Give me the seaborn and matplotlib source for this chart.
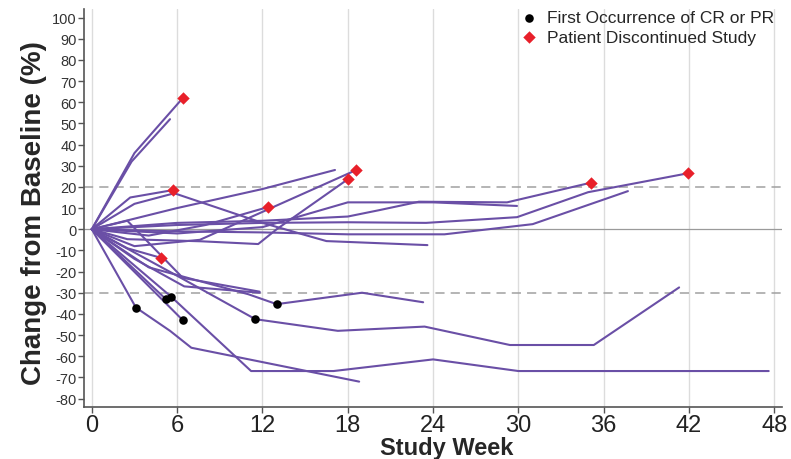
import numpy as np
import pandas as pd
import matplotlib
matplotlib.use('Agg')
import matplotlib.pyplot as plt
import seaborn as sns

# one list per patient: study week of each visit and % change from baseline
weeks = [
    [0, 3, 6.4],
    [0, 2.8, 5.5],
    [0, 2.7, 5.7],
    [0, 3, 5.8, 12, 16.5, 23.6],
    [0, 6, 12, 17.1],
    [0, 3, 7.6, 18.6],
    [0, 2.5, 7.7, 11.7, 13, 18],
    [0, 4, 8, 12.4],
    [0, 6, 12, 18, 24, 29.9],
    [0, 6, 12, 18, 20.2, 23, 29.2, 35.1],
    [0, 6, 12, 18, 23.5, 29.9, 34.9, 41.9],
    [0, 6, 12, 18, 24.8, 31, 37.7],
    [0, 3.1, 5.5, 7, 18.8],
    [0, 5.6, 11.2, 17, 24, 30, 47.6],
    [0, 5.2],
    [0, 6.4],
    [0, 6, 11.5, 17.3, 23.4, 29.4, 35.3, 41.3],
    [0, 4, 11, 13, 19, 23.3],
    [0, 2.5, 6.4, 11.8],
    [0, 2.5, 4.85],
    [0, 3, 6.5, 11.8],
]
pct_change = [
    [0, 36, 62],
    [0, 32, 52],
    [0, 15, 18.5],
    [0, 12, 17, 3, -5.6, -7.5],
    [0, 10, 19, 28],
    [0, -8, -5, 28],
    [0, -4.7, -5.7, -7, 0, 23.6],
    [0, -3, 2, 10.5],
    [0, -2, 1, 12.7, 12.7, 11],
    [0, 3, 4, 6, 9, 13, 12.7, 22],
    [0, 2, 3, 3.3, 3, 5.7, 17.5, 26.4],
    [0, -1, -1.5, -2.4, -2.4, 2.4, 18],
    [0, -37, -48, -56, -72],
    [0, -32, -67, -67, -61.5, -67, -67],
    [0, -33],
    [0, -43],
    [0, -22, -42.5, -48, -46, -54.7, -54.7, -27.5],
    [0, -18, -30.7, -35.4, -30, -34.5],
    [0, 4, -23, -29.5],
    [0, -9, -13.5],
    [0, -14, -27, -30],
]
# visit index of first CR/PR (None = never)
first_response = [None, None, None, None, None, None, None, None, None, None, None,
                  None, 1, 1, 1, 1, 2, 3, None, None, None]
discontinued = [True, False, True, False, False, True, True, True, False, True, True,
                False, False, False, False, False, False, False, False, True, False]

rows = []
for pid, (w, v) in enumerate(zip(weeks, pct_change)):
    for i in range(len(w)):
        rows.append({'patient': pid, 'week': w[i], 'change': v[i]})
df = pd.DataFrame(rows)

cr = pd.DataFrame([{'week': weeks[p][i], 'change': pct_change[p][i]}
                   for p, i in enumerate(first_response) if i is not None])
disc = pd.DataFrame([{'week': weeks[p][-1], 'change': pct_change[p][-1]}
                     for p, d in enumerate(discontinued) if d])

sns.set_style('white')
plt.rcParams['font.family'] = ['Liberation Sans', 'DejaVu Sans']
plt.rcParams['axes.unicode_minus'] = False

fig = plt.figure(figsize=(7.91, 4.60), dpi=100)
ax = fig.add_axes([0.106, 0.113, 0.882, 0.865])

ax.axhline(0, color='#9a9a9a', lw=0.9, zorder=1)
ax.axhline(20, color='#a0a0a0', lw=1.1, ls=(0, (6, 4)), zorder=1)
ax.axhline(-30, color='#a0a0a0', lw=1.1, ls=(0, (6, 4)), zorder=1)

sns.lineplot(data=df, x='week', y='change', units='patient', estimator=None,
             sort=False, color='#6a4fa6', lw=1.5, ax=ax, zorder=2)
sns.scatterplot(data=cr, x='week', y='change', color='black', marker='o', s=38,
                edgecolor='black', linewidth=0, ax=ax, zorder=4,
                label='First Occurrence of CR or PR')
sns.scatterplot(data=disc, x='week', y='change', color='#e8202a', marker='D', s=40,
                edgecolor='#e8202a', linewidth=0, ax=ax, zorder=4,
                label='Patient Discontinued Study')

ax.set_xlim(-0.56, 48.5)
ax.set_ylim(-84, 104)
ax.set_xticks(np.arange(0, 49, 6))
ax.set_yticks(np.arange(-80, 101, 10))
ax.xaxis.grid(True, color='#dcdcdc', lw=1)
ax.yaxis.grid(False)

for s in ['top', 'right']:
    ax.spines[s].set_visible(False)
for s in ['left', 'bottom']:
    ax.spines[s].set_color('#555555')
    ax.spines[s].set_linewidth(1.2)

ax.tick_params(axis='y', left=True, length=4, width=1, color='#555555',
               labelsize=10.5, labelcolor='#333333', pad=1)
ax.tick_params(axis='x', bottom=True, length=4, width=1, color='#555555',
               labelsize=17, labelcolor='#222222', pad=1)

ax.set_xlabel('Study Week', fontsize=17, fontweight='bold')
ax.xaxis.set_label_coords(0.52, -0.072)
ax.set_ylabel('Change from Baseline (%)', fontsize=20, fontweight='bold')
ax.yaxis.set_label_coords(-0.053, 0.49)

ax.legend(loc='upper right', frameon=False, fontsize=12.5, handletextpad=0.05,
          borderaxespad=0.0, labelspacing=0.25, bbox_to_anchor=(1.0, 1.015))

fig.savefig('out.png', dpi=100)
